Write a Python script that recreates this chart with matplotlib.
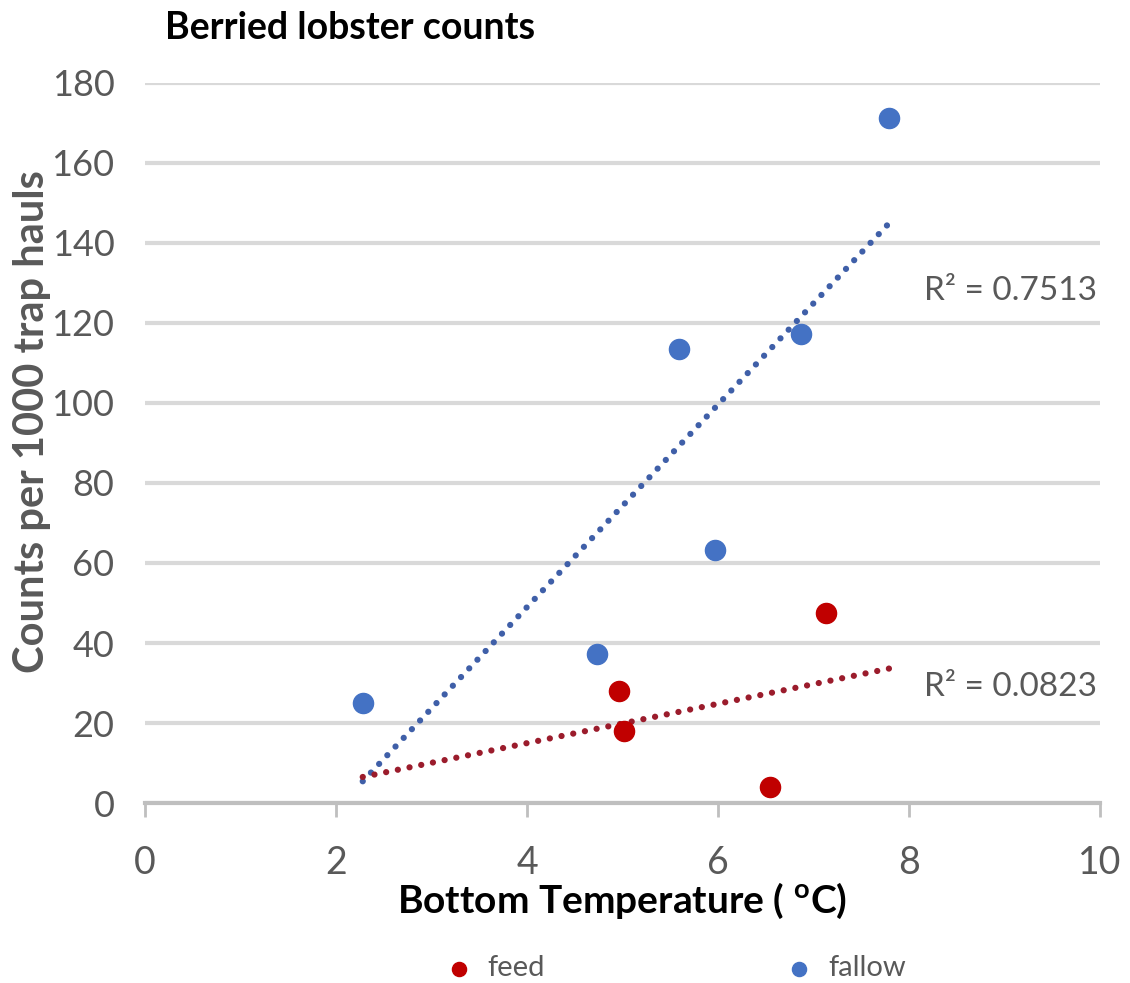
import numpy as np
import matplotlib
matplotlib.use("Agg")
import matplotlib.pyplot as plt

# bottom temperature (C) and counts per 1000 trap hauls
feed_temp = [4.96, 5.02, 6.54, 7.13]
feed_counts = [28, 18, 4, 47.5]
fallow_temp = [2.28, 4.73, 5.59, 5.97, 6.87, 7.79]
fallow_counts = [25, 37.25, 113.5, 63.25, 117.25, 171.25]

x_ticks = [0, 2, 4, 6, 8, 10]
y_ticks = [0, 20, 40, 60, 80, 100, 120, 140, 160, 180]

red = "#c00000"
blue = "#4472c4"
gray = "#595959"

plt.rcParams["font.family"] = ["Lato", "DejaVu Sans"]

fig = plt.figure(figsize=(11.3, 9.83), dpi=100)
ax = fig.add_axes([0.1283, 0.1831, 0.8452, 0.7325])

# horizontal grid only
ax.set_axisbelow(True)
ax.grid(axis="y", color="#d9d9d9", linewidth=3)
for s in ["left", "right", "top"]:
    ax.spines[s].set_visible(False)
ax.spines["bottom"].set_color("#bfbfbf")
ax.spines["bottom"].set_linewidth(3)

ax.scatter(feed_temp, feed_counts, s=210, color=red, zorder=3, label="feed")
ax.scatter(fallow_temp, fallow_counts, s=210, color=blue, zorder=3, label="fallow")

# linear trendlines across the full temperature range
xs = np.array([min(fallow_temp + feed_temp), max(fallow_temp + feed_temp)])
for tx, ty, col in [(fallow_temp, fallow_counts, "#3f5fa8"),
                    (feed_temp, feed_counts, "#9b1c2c")]:
    m, b = np.polyfit(tx, ty, 1)
    ax.plot(xs, m * xs + b, color=col, linewidth=4.5, linestyle=(0, (0.01, 1.9)),
            dash_capstyle="round", solid_capstyle="round", zorder=2)

ax.text(9.97, 128, "R² = 0.7513", ha="right", va="center", fontsize=24, color=gray)
ax.text(9.97, 29, "R² = 0.0823", ha="right", va="center", fontsize=24, color=gray)

ax.set_xlim(0, 10)
ax.set_ylim(0, 180)
ax.set_xticks(x_ticks)
ax.set_yticks(y_ticks)
ax.tick_params(axis="x", length=10, width=2, color="#bfbfbf", labelsize=27,
               labelcolor=gray, pad=20)
ax.tick_params(axis="y", length=0, labelsize=26, labelcolor=gray, pad=22)

ax.set_ylabel("Counts per 1000 trap hauls", fontsize=30, fontweight="bold",
              color=gray)
ax.yaxis.set_label_coords(-0.098, 0.53)
ax.set_xlabel("Bottom Temperature ( $^{\\mathregular{o}}$C)", fontsize=28,
              fontweight="bold", color="black", labelpad=0)
fig.text(0.146, 0.972, "Berried lobster counts", fontsize=27, fontweight="bold",
         ha="left", va="center")

ax.legend(loc="upper center", bbox_to_anchor=(0.555, -0.175), ncol=2, frameon=False,
          fontsize=21, labelcolor=gray, markerscale=0.7, columnspacing=8.2,
          handlelength=1.0, handletextpad=0.5)

fig.savefig("out.png", dpi=100)
